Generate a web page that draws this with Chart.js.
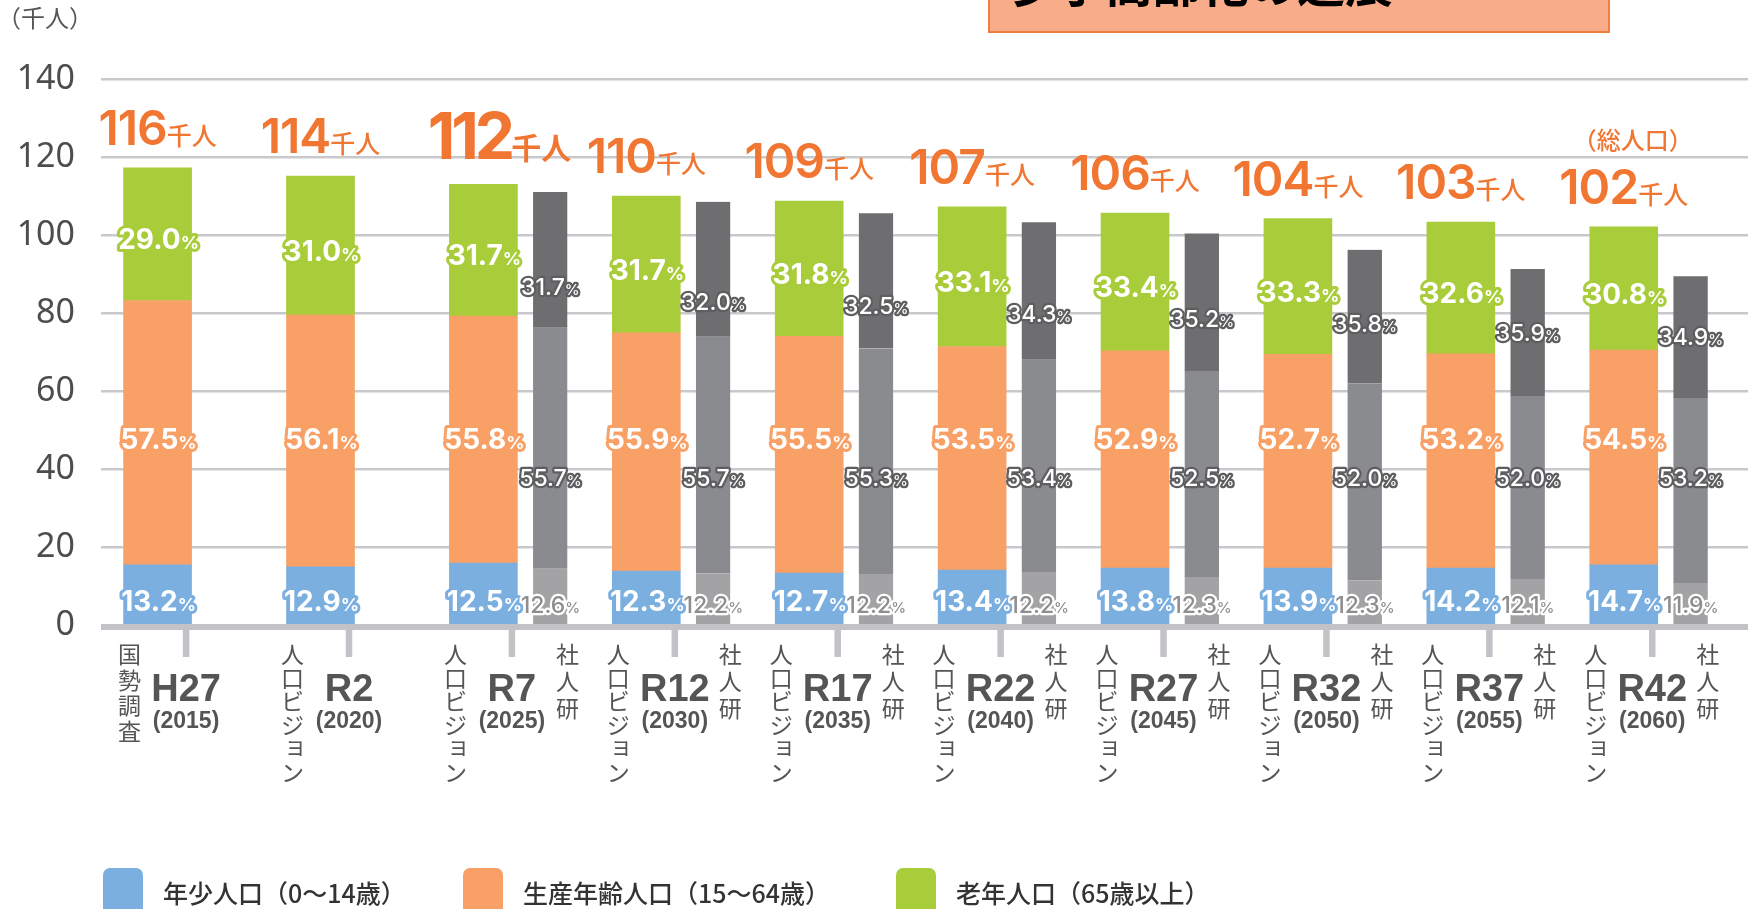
<!DOCTYPE html>
<html lang="ja"><head><meta charset="utf-8"><title>人口の推移</title>
<script src="https://cdn.jsdelivr.net/npm/chart.js@4.4.1/dist/chart.umd.min.js"></script>
<style>
html,body{margin:0;padding:0;background:#fff;overflow:hidden;}
canvas{display:block;}
</style></head><body>
<canvas id="chart" width="1756" height="909"></canvas>
<script>
// ---------- data ----------
const years = [2015, 2020, 2025, 2030, 2035, 2040, 2045, 2050, 2055, 2060];
const eraLabels = ['H27', 'R2', 'R7', 'R12', 'R17', 'R22', 'R27', 'R32', 'R37', 'R42'];
const yearLabels = ['(2015)', '(2020)', '(2025)', '(2030)', '(2035)', '(2040)', '(2045)', '(2050)', '(2055)', '(2060)'];
const sourceLabels = ['国勢調査', '人口ビジョン', '人口ビジョン', '人口ビジョン', '人口ビジョン', '人口ビジョン', '人口ビジョン', '人口ビジョン', '人口ビジョン', '人口ビジョン'];
const ipssLabel = '社人研';
const seriesNames = ['年少人口（0～14歳）', '生産年齢人口（15～64歳）', '老年人口（65歳以上）'];

// 人口ビジョン (thousand people)
const totalVision = [116, 114, 112, 110, 109, 107, 106, 104, 103, 102];
const visionYoung = [15.4, 14.9, 15.9, 13.8, 13.3, 14.1, 14.6, 14.6, 14.6, 15.4];
const visionWorking = [67.8, 64.6, 63.3, 61.1, 60.7, 57.3, 55.7, 54.8, 54.9, 55.1];
const visionOld = [34.0, 35.6, 33.8, 35.1, 34.7, 35.8, 35.3, 34.8, 33.8, 31.6];
const visionYoungPct = ['13.2', '12.9', '12.5', '12.3', '12.7', '13.4', '13.8', '13.9', '14.2', '14.7'];
const visionWorkingPct = ['57.5', '56.1', '55.8', '55.9', '55.5', '53.5', '52.9', '52.7', '53.2', '54.5'];
const visionOldPct = ['29.0', '31.0', '31.7', '31.7', '31.8', '33.1', '33.4', '33.3', '32.6', '30.8'];

// 社人研 (thousand people)
const ipssYoung = [null, null, 14.4, 13.3, 13.1, 13.6, 12.3, 11.5, 11.8, 10.8];
const ipssWorking = [null, null, 61.8, 60.6, 57.8, 54.4, 52.8, 50.5, 46.9, 47.4];
const ipssOld = [null, null, 34.8, 34.6, 34.7, 35.3, 35.3, 34.2, 32.6, 31.2];
const ipssYoungPct = [null, null, '12.6', '12.2', '12.2', '12.2', '12.3', '12.3', '12.1', '11.9'];
const ipssWorkingPct = [null, null, '55.7', '55.7', '55.3', '53.4', '52.5', '52.0', '52.0', '53.2'];
const ipssOldPct = [null, null, '31.7', '32.0', '32.5', '34.3', '35.2', '35.8', '35.9', '34.9'];

const highlightIndex = 2;
const totalUnit = '千人';
const totalCaption = '（総人口）';
const yAxisTitle = '（千人）';
const titleText = '少子高齢化の進展';

// ---------- styles ----------
const C = {
  blue: '#7BAFDF', orange: '#F8A065', green: '#A9CD3A',
  ipssOld: '#6E6E70', ipssMid: '#8A8B8F', ipssYoung: '#A3A3A6',
  total: '#F07632', text: '#555555', grid: '#C9C9CD', axis: '#C3C3C7'
};
const JP = '"Noto Sans CJK JP", "Noto Sans CJK SC", sans-serif';

const pts = arr => years.map((x, i) => ({ x, y: arr[i] }));
const visionDS = (label, arr, color) => ({
  label, data: pts(arr), backgroundColor: color, stack: 'vision', barThickness: 68, borderWidth: 0
});
const ipssDS = (label, arr, color) => ({
  label, data: pts(arr), backgroundColor: color, stack: 'ipss', barThickness: 50,
  borderWidth: { left: 16, top: 0, right: 0, bottom: 0 }, borderColor: 'rgba(255,255,255,0)', borderSkipped: 'start'
});

const PCT = {
  vision: { num: '700 28px Inter', unit: '700 18px Inter', size: 28, fill: '#ffffff', lw: 6 },
  ipss: { num: '500 23px Inter', unit: '500 15px Inter', size: 23, fill: '#ffffff', stroke: '#5E5E60', lw: 4.5 },
  ipssLight: { num: '500 23px Inter', unit: '500 15px Inter', size: 23, fill: '#8E8E90', stroke: '#ffffff', lw: 4.5 }
};

function twoPart(ctx, num, unit, cx, baseY, numFont, unitFont, fill, stroke, lw, spacing) {
  ctx.save();
  ctx.textAlign = 'left'; ctx.textBaseline = 'alphabetic';
  ctx.lineJoin = 'round';
  ctx.letterSpacing = spacing || '0px';
  ctx.font = numFont; const w1 = ctx.measureText(num).width;
  ctx.letterSpacing = '0px';
  ctx.font = unitFont; const w2 = ctx.measureText(unit).width;
  const x0 = cx - (w1 + w2) / 2;
  const draw = (fn) => {
    ctx.letterSpacing = spacing || '0px'; ctx.font = numFont; ctx[fn](num, x0, baseY);
    ctx.letterSpacing = '0px'; ctx.font = unitFont; ctx[fn](unit, x0 + w1, baseY);
  };
  if (stroke) { ctx.strokeStyle = stroke; ctx.lineWidth = lw; draw('strokeText'); }
  ctx.fillStyle = fill; draw('fillText');
  ctx.restore();
}

function pctLabel(ctx, txt, cx, cy, style, strokeColor) {
  const s = PCT[style];
  twoPart(ctx, txt, '%', cx, cy + s.size * 0.36, s.num, s.unit, s.fill, s.stroke || strokeColor, s.lw);
}

function vertical(ctx, text, cx, top, pitch, size) {
  ctx.save();
  ctx.font = `400 ${size}px ${JP}`; ctx.fillStyle = C.text;
  ctx.textAlign = 'center'; ctx.textBaseline = 'middle';
  [...text].forEach((ch, k) => {
    let dx = 0, dy = 0;
    if ('ャュョッァィゥェォ'.includes(ch)) { dx = size * 0.12; dy = -size * 0.14; }
    ctx.fillText(ch, cx + dx, top + pitch * k + size / 2 + dy);
  });
  ctx.restore();
}

const overlay = {
  id: 'overlay',
  beforeDraw(chart) {
    const ctx = chart.ctx; ctx.save(); ctx.fillStyle = '#fff'; ctx.fillRect(0, 0, chart.width, chart.height); ctx.restore();
  },
  afterDatasetsDraw(chart) {
    const ctx = chart.ctx, xs = chart.scales.x, ys = chart.scales.y, a = chart.chartArea;
    const y0 = ys.getPixelForValue(0);
    ctx.save();
    ctx.fillStyle = C.axis;
    ctx.fillRect(a.left, y0 - 1, a.right - a.left, 6);
    const vm = [0, 1, 2].map(d => chart.getDatasetMeta(d).data);
    const im = [3, 4, 5].map(d => chart.getDatasetMeta(d).data);
    years.forEach((yr, i) => {
      const p = xs.getPixelForValue(yr);
      const tickX = p - 5.5;
      ctx.fillStyle = C.axis;
      ctx.fillRect(tickX - 3.25, y0, 6.5, 32);
      const vx = vm[0][i].x;
      const oldEl = vm[2][i];
      const oldY = (oldEl.y + oldEl.base) / 2 + 5;
      pctLabel(ctx, visionYoungPct[i], vx + 1, y0 - 24, 'vision', C.blue);
      pctLabel(ctx, visionWorkingPct[i], vx + 1, y0 - 186, 'vision', C.orange);
      pctLabel(ctx, visionOldPct[i], vx + 1, oldY, 'vision', C.green);
      if (ipssYoung[i] !== null) {
        const ie = im[2][i];
        const ix = ie.x + 8;
        const iy = Math.max((ie.y + ie.base) / 2, oldY + 32);
        pctLabel(ctx, ipssYoungPct[i], ix, y0 - 20, 'ipssLight');
        pctLabel(ctx, ipssWorkingPct[i], ix, y0 - 147, 'ipss');
        pctLabel(ctx, ipssOldPct[i], ix, iy, 'ipss');
        vertical(ctx, ipssLabel, ie.x + 25, y0 + 18, 27, 23);
      }
      // totals
      const topY = oldEl.y;
      if (i === highlightIndex) {
        twoPart(ctx, String(totalVision[i]), totalUnit, p - 18, topY - 25, '700 64px Inter', `700 30px ${JP}`, C.total, null, 0, '-4px');
      } else {
        twoPart(ctx, String(totalVision[i]), totalUnit, vx, topY - 23, '600 48px Inter', `500 25px ${JP}`, C.total, null, 0, '-1px');
      }
      if (i === years.length - 1) {
        ctx.save();
        ctx.font = `500 24px ${JP}`; ctx.fillStyle = C.total; ctx.textAlign = 'center'; ctx.textBaseline = 'alphabetic';
        ctx.fillText(totalCaption, vx + 9, topY - 78);
        ctx.restore();
      }
      // x labels
      ctx.save();
      ctx.fillStyle = C.text; ctx.textAlign = 'center'; ctx.textBaseline = 'alphabetic';
      ctx.font = 'bold 38px "Liberation Sans", Arial, sans-serif';
      ctx.fillText(eraLabels[i], tickX, y0 + 76);
      ctx.font = 'bold 23px "Liberation Sans", Arial, sans-serif';
      ctx.fillText(yearLabels[i], tickX, y0 + 103);
      ctx.restore();
      const src = sourceLabels[i];
      vertical(ctx, src, vx - 28, y0 + 18, src.length > 4 ? 23.5 : 25.5, 23);
    });
    ctx.restore();
  },
  afterDraw(chart) {
    const ctx = chart.ctx;
    ctx.save();
    // y-axis unit
    ctx.font = `400 24px ${JP}`; ctx.fillStyle = C.text; ctx.textAlign = 'left'; ctx.textBaseline = 'middle';
    ctx.fillText(yAxisTitle, -3, 18);
    // legend
    const colors = [C.blue, C.orange, C.green];
    const lx = [103, 463, 896];
    ctx.font = `500 25px ${JP}`; ctx.textBaseline = 'middle';
    seriesNames.forEach((n, k) => {
      ctx.fillStyle = colors[k];
      ctx.beginPath(); ctx.roundRect(lx[k], 868, 40, 56, 7); ctx.fill();
      ctx.fillStyle = '#333333';
      ctx.fillText(n, lx[k] + 60, 893);
    });
    // title box (cut off at top)
    ctx.fillStyle = '#F8AC8A'; ctx.fillRect(989, -5, 620, 37);
    ctx.strokeStyle = '#F07E3E'; ctx.lineWidth = 2; ctx.strokeRect(989, -5, 620, 37);
    ctx.fillStyle = '#000'; ctx.font = `700 48px ${JP}`; ctx.textBaseline = 'alphabetic';
    ctx.fillText(titleText, 1009, 2);
    ctx.restore();
  }
};

function make() {
  new Chart(document.getElementById('chart'), {
    type: 'bar',
    data: {
      datasets: [
        visionDS(seriesNames[0], visionYoung, C.blue),
        visionDS(seriesNames[1], visionWorking, C.orange),
        visionDS(seriesNames[2], visionOld, C.green),
        ipssDS('社人研 ' + seriesNames[0], ipssYoung, C.ipssYoung),
        ipssDS('社人研 ' + seriesNames[1], ipssWorking, C.ipssMid),
        ipssDS('社人研 ' + seriesNames[2], ipssOld, C.ipssOld)
      ]
    },
    options: {
      responsive: false, animation: false, devicePixelRatio: 1,
      layout: { padding: { left: 0, right: 8, top: 79, bottom: 284 } },
      plugins: { legend: { display: false }, tooltip: { enabled: false } },
      scales: {
        x: { type: 'linear', display: false, offset: false, min: 2012.22, max: 2062.77 },
        y: {
          stacked: true, min: 0, max: 140,
          ticks: { stepSize: 20, padding: 26, color: '#4d4d4d', font: { family: '"Noto Sans", sans-serif', size: 34, weight: '400' } },
          grid: { color: C.grid, lineWidth: c => (c.tick && c.tick.value === 0) ? 0 : 2.5, drawTicks: false },
          border: { display: false },
          afterFit(s) { s.width = 101; }
        }
      }
    },
    plugins: [overlay]
  });
}

const fonts = ['400 34px "Noto Sans"', '600 48px Inter', '700 28px Inter', '400 23px "Noto Sans CJK JP"',
  '500 25px "Noto Sans CJK JP"', '700 48px "Noto Sans CJK JP"', 'bold 38px "Liberation Sans"'];
Promise.race([
  Promise.all(fonts.map(f => document.fonts.load(f, '千人0%'))),
  new Promise(r => setTimeout(r, 1500))
]).catch(() => {}).then(make);
</script>
</body></html>
